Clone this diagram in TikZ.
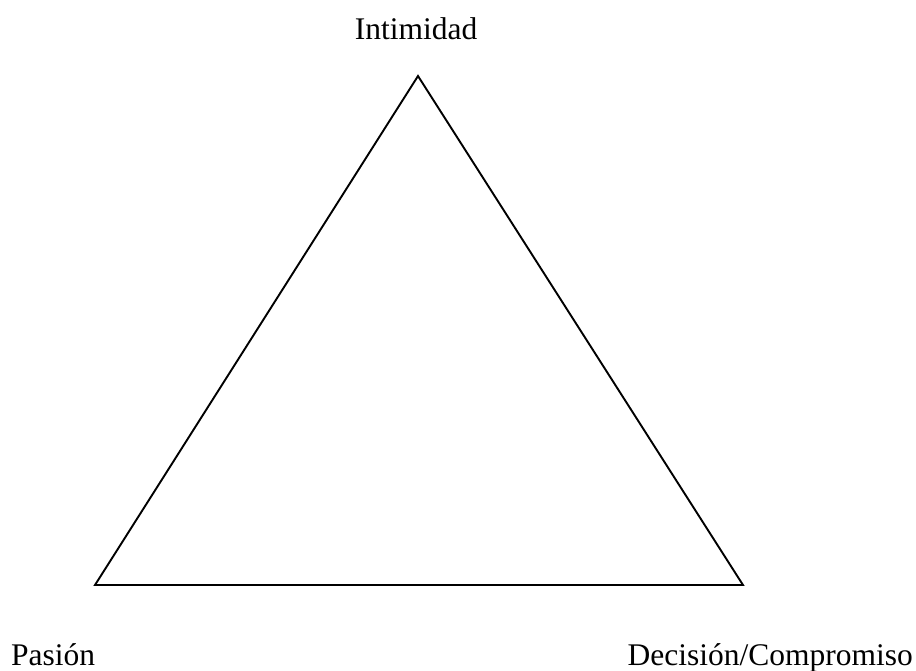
\documentclass[tikz,border=0pt]{standalone}
\usepackage{fontspec}
\setmainfont{Liberation Serif}
\begin{document}
\begin{tikzpicture}[x=1pt,y=-1pt,
  lab/.style={inner sep=0pt,font=\fontsize{31.5}{36}\selectfont},
  edge/.style={draw=black,line width=1.9pt,line join=miter}]
\useasboundingbox (0,0) rectangle (916,670);
\coordinate (top) at (418,76);
\coordinate (left) at (95,585);
\coordinate (right) at (743,585);
\draw[edge] (top) -- (left) -- (right) -- cycle;
\node[lab,anchor=base] (int) at (416,39) {Intimidad};
\node[lab,anchor=base west] (pas) at (11,665) {Pasión};
\node[lab,anchor=base east] (dec) at (913,665) {Decisión/Compromiso};
\end{tikzpicture}
\end{document}
